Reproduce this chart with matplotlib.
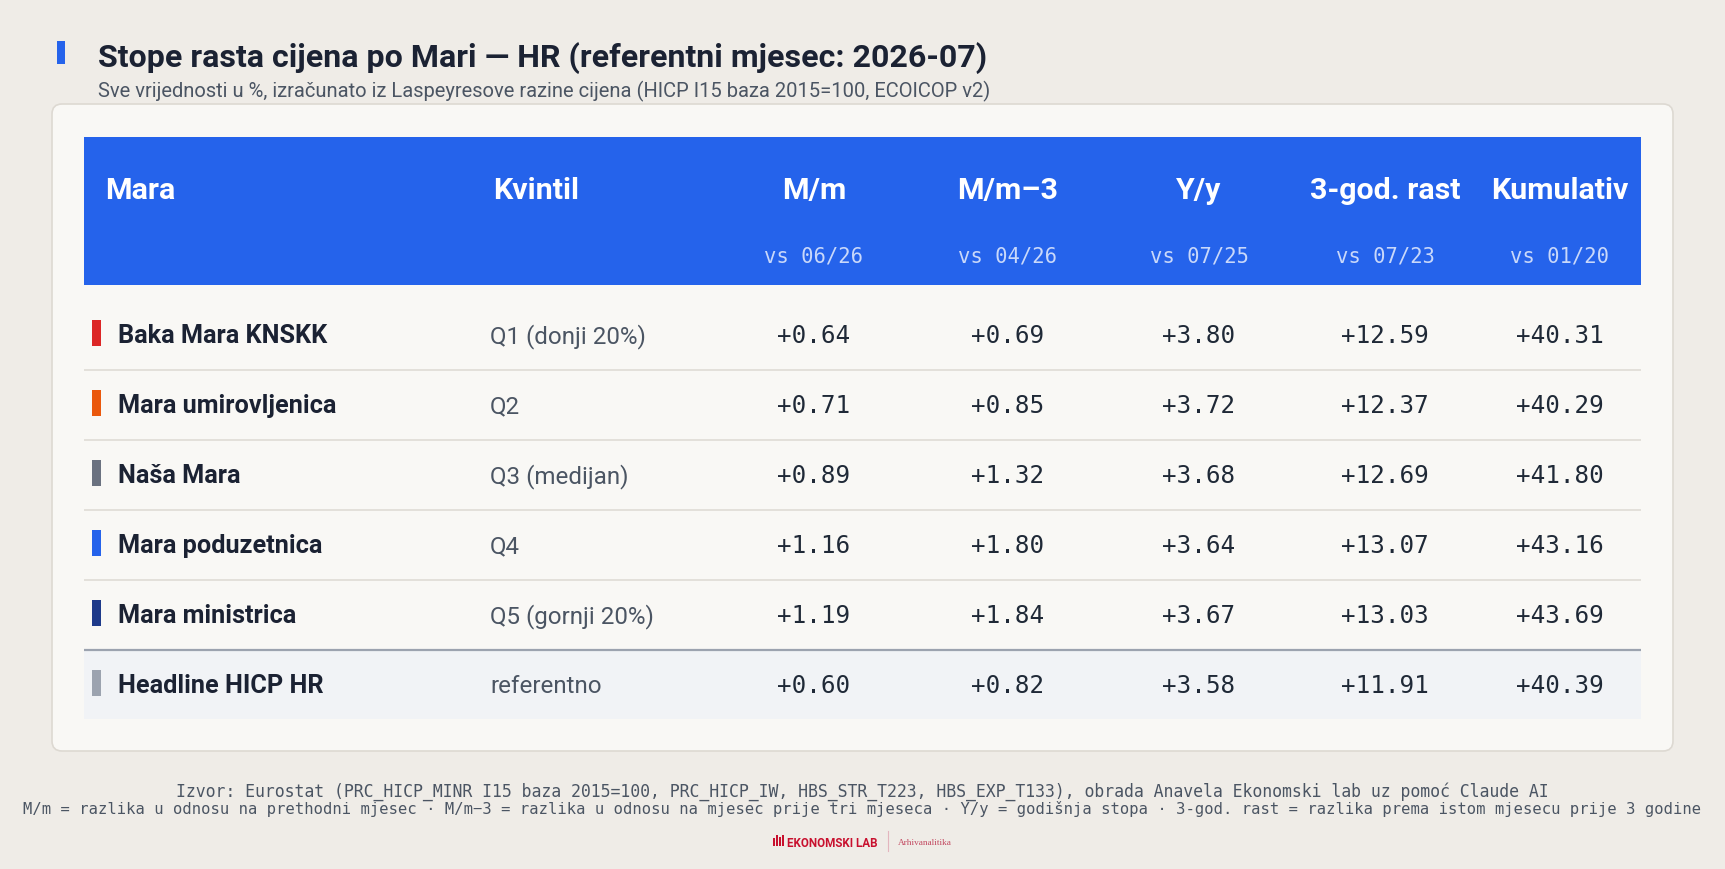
import matplotlib
matplotlib.use("Agg")
import matplotlib.pyplot as plt
from matplotlib.patches import Rectangle, FancyBboxPatch

# ---------------- data ----------------
names = ["Baka Mara KNSKK", "Mara umirovljenica", "Naša Mara",
         "Mara poduzetnica", "Mara ministrica", "Headline HICP HR"]
quintiles = ["Q1 (donji 20%)", "Q2", "Q3 (medijan)", "Q4",
             "Q5 (gornji 20%)", "referentno"]
mm = [0.64, 0.71, 0.89, 1.16, 1.19, 0.60]
mm3 = [0.69, 0.85, 1.32, 1.80, 1.84, 0.82]
yy = [3.80, 3.72, 3.68, 3.64, 3.67, 3.58]
g3 = [12.59, 12.37, 12.69, 13.07, 13.03, 11.91]
cum = [40.31, 40.29, 41.80, 43.16, 43.69, 40.39]
row_colors = ["#DC2626", "#EA580C", "#6B7280", "#2563EB", "#1E3A8A", "#9CA3AF"]
col_headers = ["Mara", "Kvintil", "M/m", "M/m–3", "Y/y", "3-god. rast", "Kumulativ"]
col_subs = ["", "", "vs 06/26", "vs 04/26", "vs 07/25", "vs 07/23", "vs 01/20"]

title = "Stope rasta cijena po Mari — HR (referentni mjesec: 2026-07)"
subtitle = ("Sve vrijednosti u %, izračunato iz Laspeyresove razine cijena "
            "(HICP I15 baza 2015=100, ECOICOP v2)")
foot1 = ("Izvor: Eurostat (PRC_HICP_MINR I15 baza 2015=100, PRC_HICP_IW, "
         "HBS_STR_T223, HBS_EXP_T133), obrada Anavela Ekonomski lab uz pomoć Claude AI")
foot2 = ("M/m = razlika u odnosu na prethodni mjesec · M/m−3 = razlika u odnosu na "
         "mjesec prije tri mjeseca · Y/y = godišnja stopa · 3-god. rast = razlika "
         "prema istom mjesecu prije 3 godine")

# ---------------- style ----------------
BG = "#EFECE7"
CARD = "#F9F8F5"
BLUE = "#2563EB"
DARK = "#1B2233"
GREY = "#4B5563"
SANS = ["Roboto", "DejaVu Sans"]
MONO = ["DejaVu Sans Mono"]
BOLD = "bold"

W, H = 1725, 870
fig = plt.figure(figsize=(W / 100, H / 100), dpi=100, facecolor=BG)
ax = fig.add_axes([0, 0, 1, 1])
ax.set_xlim(0, W)
ax.set_ylim(H, 0)
ax.axis("off")
renderer = fig.canvas.get_renderer()


def fit_size(s, target, family, weight="normal", base=20):
    t = ax.text(0, 0, s, fontsize=base, family=family, weight=weight)
    w = t.get_window_extent(renderer).width
    t.remove()
    return base * target / w


fs_title = fit_size(title, 884, SANS, BOLD)
fs_sub = fit_size(subtitle, 895, SANS)
fs_head = fit_size("Kumulativ", 137, SANS, BOLD)
fs_name = fit_size("Baka Mara KNSKK", 209, SANS, BOLD)
fs_q = fit_size("Q1 (donji 20%)", 156, SANS)
fs_num = fit_size("+12.59", 88, MONO)
fs_vs = fit_size("vs 06/26", 99, MONO)
fs_foot1 = fit_size(foot1, 1389, MONO)
fs_foot2 = fit_size(foot2, 1677, MONO)
fs_logo = fit_size("EKONOMSKI LAB", 91, SANS, BOLD)
fs_logo2 = fit_size("Arhivanalitika", 54, ["Liberation Serif"])

# title block
ax.add_patch(Rectangle((57, 42), 8, 23, color=BLUE, lw=0))
ax.text(98, 55, title, fontsize=fs_title, family=SANS, weight=BOLD,
        color=DARK, va="center_baseline", ha="left")
ax.text(98, 89, subtitle, fontsize=fs_sub, family=SANS, color=GREY,
        va="center_baseline", ha="left")

# card
ax.add_patch(FancyBboxPatch((52, 105), 1621, 647,
                            boxstyle="round,pad=0,rounding_size=10",
                            fc=CARD, ec="#DDD9D2", lw=1.2))

# header
hx0, hx1 = 84, 1641
ax.add_patch(Rectangle((hx0, 138), hx1 - hx0, 148, color=BLUE, lw=0))
col_x = [105, 493, 814, 1008, 1199, 1385, 1560]
col_ha = ["left", "left", "center", "center", "center", "center", "center"]
for x, ha, h, s in zip(col_x, col_ha, col_headers, col_subs):
    ax.text(x, 188, h, fontsize=fs_head, family=SANS, weight=BOLD,
            color="white", ha=ha, va="center_baseline")
    if s:
        ax.text(x, 255, s, fontsize=fs_vs, family=MONO, color="#C9D8FA",
                ha=ha, va="center_baseline")

# rows
row_top0, row_h = 301, 70
n = len(names)
for i in range(n):
    top = row_top0 + i * row_h
    cy = top + row_h / 2 - 2
    last = i == n - 1
    if last:
        ax.add_patch(Rectangle((hx0, top), hx1 - hx0, row_h - 1,
                               color="#F1F3F6", lw=0))
        ax.plot([hx0, hx1], [top, top], color="#9CA3AF", lw=1.6,
                solid_capstyle="butt")
    elif i > 0:
        ax.plot([hx0, hx1], [top, top], color="#DDD9D3", lw=1.1,
                solid_capstyle="butt")
    ax.add_patch(Rectangle((92, cy - 13), 9, 26, color=row_colors[i], lw=0))
    ax.text(118, cy, names[i], fontsize=fs_name, family=SANS, weight=BOLD,
            color=DARK, ha="left", va="center_baseline")
    ax.text(490, cy, quintiles[i], fontsize=fs_q, family=SANS, color=GREY,
            ha="left", va="center_baseline")
    for x, vals in zip(col_x[2:], [mm, mm3, yy, g3, cum]):
        ax.text(x, cy, f"{vals[i]:+.2f}", fontsize=fs_num, family=MONO,
                color="#1F2937", ha="center", va="center_baseline")

# footer
ax.text(862, 789, foot1, fontsize=fs_foot1, family=MONO, color=GREY,
        ha="center", va="center_baseline")
ax.text(862, 808, foot2, fontsize=fs_foot2, family=MONO, color=GREY,
        ha="center", va="center_baseline")

# logo
RED = "#C8102E"
for k, (bx, bh) in enumerate([(773, 8), (776, 11), (779, 9), (782, 11)]):
    ax.add_patch(Rectangle((bx, 847 - bh), 2, bh, color=RED, lw=0))
ax.text(787, 842, "EKONOMSKI LAB", fontsize=fs_logo, family=SANS, weight=BOLD,
        color=RED, ha="left", va="center_baseline")
ax.plot([888, 888], [832, 852], color="#E3B5BE", lw=0.8)
ax.text(898, 842, "Arhivanalitika", fontsize=fs_logo2, family=["Liberation Serif"],
        color="#C2475F", ha="left", va="center_baseline")

fig.savefig("out.png", dpi=100, facecolor=BG)
